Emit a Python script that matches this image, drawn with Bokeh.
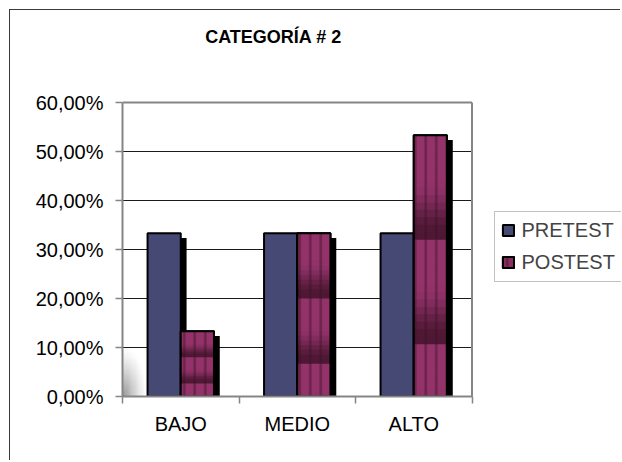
import numpy as np
from bokeh.plotting import figure
from bokeh.models import (Range1d, FixedTicker, Legend, LegendItem, Label, ColumnDataSource)
from bokeh.embed import file_html
from bokeh.resources import INLINE

# ---- data -------------------------------------------------------------
title_text = "CATEGORÍA # 2"
categories = ["BAJO", "MEDIO", "ALTO"]
series_names = ["PRETEST", "POSTEST"]
pretest = [33.33, 33.33, 33.33]   # percent
postest = [13.33, 33.33, 53.33]   # percent
y_ticks = [0, 10, 20, 30, 40, 50, 60]
y_tick_labels = ["0,00%", "10,00%", "20,00%", "30,00%", "40,00%", "50,00%", "60,00%"]

# ---- styling ----------------------------------------------------------
FONT = "Liberation Sans"
PRE_COLOR = "#474975"
POST_LIGHT = np.array([0x93, 0x33, 0x6A])
POST_DARK = np.array([0x4E, 0x18, 0x34])
GRAY = "#858585"

# ---- geometry (pixels) ------------------------------------------------
W, H = 611, 451
LEFT_PANEL, BOTTOM_PANEL = 112, 65
PLOT_W = 349.5          # width of the bar area inside the frame
PLOT_TOP = 92           # empty band above the bar area (title lives here)
frame_w = W - LEFT_PANEL
frame_h = H - BOTTOM_PANEL

n = len(categories)
x_end = n * frame_w / PLOT_W
y_end = y_ticks[-1] * frame_h / (frame_h - PLOT_TOP)

centers = np.arange(n) + 0.5
bar_w = 0.285
shift_x = 0.05      # shadow offset to the right (category units)
shift_y = 1.0       # shadow drop below the bar top (percent units)
pre_x = centers - bar_w / 2
post_x = centers + bar_w / 2

p = figure(width=W, height=H, output_backend="svg", toolbar_location=None,
           title=None,
           x_range=Range1d(0, x_end), y_range=Range1d(y_ticks[0], y_end),
           min_border_left=LEFT_PANEL, min_border_right=0,
           min_border_top=0, min_border_bottom=BOTTOM_PANEL)
# chart-area frame: only its top and left edges fall inside the page
p.styles = {"margin-left": "9px", "margin-top": "9px",
            "border-left": "1.5px solid #3a3a3a", "border-top": "1.5px solid #3a3a3a"}
p.background_fill_color = "white"
p.border_fill_color = "white"
p.outline_line_color = None

# ---- axes -------------------------------------------------------------
p.yaxis.ticker = FixedTicker(ticks=y_ticks)
p.yaxis.major_label_overrides = dict(zip(y_ticks, y_tick_labels))
p.yaxis.bounds = (y_ticks[0], y_ticks[-1])
p.xaxis.ticker = FixedTicker(ticks=list(centers), minor_ticks=list(range(n + 1)))
p.xaxis.major_label_overrides = dict(zip(list(centers), categories))
p.xaxis.bounds = (0, n)
for ax in (p.xaxis[0], p.yaxis[0]):
    ax.axis_line_color = GRAY
    ax.axis_line_width = 2
    ax.major_label_text_font = FONT
    ax.major_label_text_font_size = "20px"
    ax.major_label_text_color = "black"
p.yaxis.major_tick_line_color = GRAY
p.yaxis.major_tick_line_width = 1.5
p.yaxis.major_tick_out = 7
p.yaxis.major_tick_in = 0
p.yaxis.minor_tick_line_color = None
p.yaxis.major_label_standoff = 12
p.xaxis.major_tick_line_color = None
p.xaxis.minor_tick_line_color = GRAY
p.xaxis.minor_tick_line_width = 1.5
p.xaxis.minor_tick_out = 7
p.xaxis.minor_tick_in = 0
p.xaxis.major_label_standoff = 9
p.grid.grid_line_color = None

# ---- shaded corner of the back wall ----------------------------------
gh, gw = 40, 20
yy, xx = np.mgrid[0:gh, 0:gw]
d = np.sqrt((xx / gw) ** 2 + (yy / gh) ** 2)
shade = np.clip(1 - d, 0, 1) ** 1.3
img = np.zeros((gh, gw), dtype=np.uint32)
view = img.view(dtype=np.uint8).reshape((gh, gw, 4))
g = (255 - 105 * shade).astype(np.uint8)
view[:, :, 0] = g
view[:, :, 1] = g
view[:, :, 2] = g
view[:, :, 3] = 255
p.image_rgba(image=[img], x=0, y=0, dw=0.2, dh=10)

# ---- gridlines and plot-area border -----------------------------------
inner = y_ticks[1:-1]
p.segment(x0=[0] * len(inner), x1=[n] * len(inner), y0=inner, y1=inner,
          line_color="#1a1a1a", line_width=1.2)
p.segment(x0=[0, n], x1=[n, n], y0=[y_ticks[-1], 0], y1=[y_ticks[-1], y_ticks[-1]],
          line_color=GRAY, line_width=2)

# ---- shadows ----------------------------------------------------------
p.vbar(x=pre_x + shift_x, width=bar_w, bottom=0,
       top=np.array(pretest) - shift_y, fill_color="black", line_color=None)
p.vbar(x=post_x + shift_x, width=bar_w, bottom=0,
       top=np.array(postest) - shift_y, fill_color="black", line_color=None)

# ---- PRETEST bars -----------------------------------------------------
pre_r = p.vbar(x=pre_x, width=bar_w, bottom=0, top=pretest,
               fill_color=PRE_COLOR, line_color="black", line_width=2)

# ---- POSTEST bars: base, banded gradient, vertical stripes ------------
post_base = p.vbar(x=post_x, width=bar_w, bottom=0, top=postest,
                   fill_color="#8A2E62", line_color="black", line_width=2)

tiles_per_bar = 2.5
steps = 14
L, R, B, T, C = [], [], [], [], []
for xc, v in zip(post_x, postest):
    period = v / tiles_per_bar
    step = period / steps
    k = 0
    while k * period < v:
        for s in range(steps):
            top = v - k * period - s * step
            if top <= 0:
                break
            # each strip reaches a little below the next one to avoid seams
            bot = max(top - 1.6 * step, 0)
            t = (s + 0.5) / steps
            w = np.clip((t - 0.45) / 0.5, 0, 1)
            w = w * w * (3 - 2 * w)
            col = (1 - w) * POST_LIGHT + w * POST_DARK
            L.append(xc - bar_w / 2)
            R.append(xc + bar_w / 2)
            T.append(top)
            B.append(bot)
            C.append("#%02x%02x%02x" % tuple(int(c) for c in col))
        k += 1
strips = ColumnDataSource(dict(left=L, right=R, top=T, bottom=B, color=C))
p.quad(left="left", right="right", top="top", bottom="bottom", source=strips,
       fill_color="color", line_color=None)

post_hatch = p.vbar(x=post_x, width=bar_w, bottom=0, top=postest,
                    fill_color=None, line_color="black", line_width=2,
                    hatch_pattern="|", hatch_color="#3a0f26", hatch_alpha=0.45,
                    hatch_weight=2.5, hatch_scale=10.5)

# ---- legend -----------------------------------------------------------
legend = Legend(items=[LegendItem(label=series_names[0], renderers=[pre_r]),
                       LegendItem(label=series_names[1], renderers=[post_base, post_hatch])],
                location=(371.5, 114.5), orientation="vertical",
                glyph_width=14, glyph_height=14, label_standoff=7,
                label_height=25, spacing=7, padding=6, margin=0,
                label_text_font=FONT, label_text_font_size="20px",
                border_line_color=GRAY, border_line_width=1.5,
                background_fill_color="white", background_fill_alpha=1)
p.add_layout(legend)

# ---- title ------------------------------------------------------------
p.add_layout(Label(x=262, y=25, x_units="canvas", y_units="canvas",
                   text=title_text, text_align="center", text_baseline="alphabetic",
                   text_font=FONT, text_font_style="bold",
                   text_font_size="18px", text_color="black"))

open("out.html", "w").write(file_html(p, INLINE))
